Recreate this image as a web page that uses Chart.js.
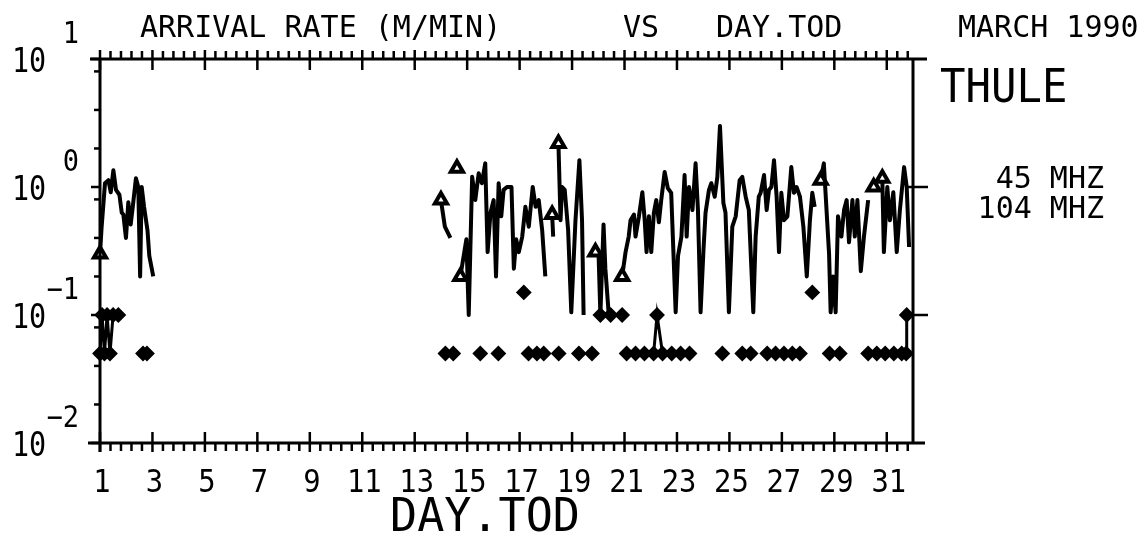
<!DOCTYPE html>
<html>
<head>
<meta charset="utf-8">
<script src="https://cdn.jsdelivr.net/npm/chart.js@4.4.1/dist/chart.umd.min.js"></script>
<style>
  html, body { margin: 0; padding: 0; background: #fff; }
  #wrap { position: relative; width: 1147px; height: 540px; }
  canvas { display: block; }
</style>
</head>
<body>
<div id="wrap"><canvas id="rateChart" width="1147" height="540"></canvas></div>
<script>
// 45 MHz arrival rate (m/min), day.tod -- null breaks the trace
const days45 = [
  1.00, 1.06, 1.19, 1.32, 1.41, 1.51, 1.61, 1.74, 1.83, 1.89, 1.99, 2.08, 2.17, 2.25, 2.37, 2.46, 2.53, 2.59, 2.68, 2.81, 2.88, 3.03, 3.10,
  14.00, 14.15, 14.36, 14.45,
  14.61, 14.68,
  14.74, 14.97, 15.06, 15.19, 15.31, 15.44, 15.56, 15.69, 15.78, 15.89, 16.01, 16.10, 16.20, 16.30, 16.39, 16.52, 16.69, 16.78, 16.87, 16.97,
  17.10, 17.22, 17.35, 17.50, 17.61, 17.73, 17.86, 17.98, 18.10,
  18.24, 18.28, 18.35,
  18.48, 18.56, 18.62, 18.72, 18.85, 18.97, 19.13, 19.28, 19.38, 19.44, 19.60,
  19.89, 20.01, 20.08, 20.20, 20.27, 20.40, 20.60,
  20.91, 21.04, 21.16, 21.23, 21.36, 21.42, 21.55, 21.68, 21.77, 21.84, 21.93, 22.02, 22.12, 22.21, 22.31, 22.40, 22.53, 22.65, 22.78, 22.95,
  23.04, 23.17, 23.29, 23.37, 23.46, 23.59, 23.71, 23.80, 23.90, 24.01, 24.09, 24.22, 24.31, 24.44, 24.54, 24.64, 24.77, 24.85, 24.98,
  25.11, 25.24, 25.39, 25.49, 25.62, 25.74, 25.91, 26.00, 26.12, 26.19, 26.32, 26.42, 26.51, 26.60, 26.70, 26.80, 26.89, 26.98,
  27.08, 27.21, 27.36, 27.46, 27.56, 27.69, 27.82, 27.95, 28.07, 28.16, 28.25, 28.35,
  28.48, 28.60, 28.80, 28.86, 28.95, 29.05, 29.14, 29.27, 29.37, 29.47, 29.56, 29.69, 29.78, 29.88, 30.01, 30.13, 30.29, 30.40,
  30.50, 30.60,
  30.83, 30.89, 31.02, 31.12, 31.25, 31.38, 31.50, 31.66, 31.76, 31.85
];
const rate45 = [
  0.30, 0.48, 1.07, 1.13, 0.91, 1.35, 0.95, 0.87, 0.63, 0.61, 0.40, 0.76, 0.51, 0.70, 1.17, 1.00, 0.20, 1.00, 0.70, 0.46, 0.29, 0.20, null,
  0.79, 0.49, 0.40, null,
  1.40, null,
  0.20, 0.39, 0.10, 1.20, 0.79, 1.28, 1.07, 1.53, 0.31, 0.63, 0.79, 0.20, 1.07, 0.59, 0.95, 1.00, 1.00, 0.23, 0.39, 0.31,
  0.41, 0.70, 0.49, 1.00, 0.70, 0.79, 0.46, 0.20, null,
  0.61, 0.41, null,
  2.19, 0.55, 1.00, 0.95, 0.46, 0.105, 0.55, 1.62, 0.55, 0.10, null,
  0.31, 0.30, 0.10, 0.51, 0.23, 0.10, null,
  0.20, 0.31, 0.41, 0.55, 0.61, 0.41, 0.59, 0.91, 0.55, 0.31, 0.59, 0.31, 0.63, 0.79, 0.53, 0.79, 1.31, 0.98, 0.90, 0.105,
  0.29, 0.41, 1.24, 0.41, 1.00, 0.66, 1.53, 0.66, 0.105, 0.32, 0.63, 0.95, 1.07, 0.84, 1.20, 3.00, 0.75, 0.63, 0.105,
  0.49, 0.59, 1.13, 1.20, 0.84, 0.66, 0.105, 0.41, 0.84, 0.90, 1.24, 0.66, 0.95, 1.00, 1.62, 0.84, 0.31, 0.90,
  0.55, 0.59, 1.43, 0.90, 1.00, 0.84, 0.49, 0.20, 0.55, 0.90, 0.70, null,
  1.13, 1.53, 0.30, 0.105, 0.20, 0.105, 0.59, 0.41, 0.66, 0.79, 0.37, 0.79, 0.41, 0.79, 0.22, 0.41, 0.79, null,
  1.00, null,
  1.17, 0.31, 1.00, 0.55, 0.91, 0.31, 0.66, 1.43, 1.00, 0.34
];

// 104 MHz arrival rate
const days104 = [
  1.00, 1.08, 1.17, 1.27, 1.38, 1.50, 1.70, 2.00, 2.64, 2.79, 3.00,
  14.17, 14.47, 15.00, 15.50, 15.80, 16.19, 16.50, 17.16, 17.25, 17.34, 17.66, 17.92, 18.20,
  18.49, 18.90, 19.26, 19.50, 19.76, 19.90, 20.08, 20.47, 20.91, 21.00,
  21.08, 21.42, 21.76, 22.11, 22.24, 22.45, 22.80, 23.14, 23.48, 24.00,
  24.73, 25.20, 25.49, 25.81, 26.10, 26.44, 26.76, 27.08, 27.40, 27.69, 28.00,
  28.16, 28.50, 28.82, 29.21, 29.80, 30.29, 30.62, 30.94, 31.27, 31.57, 31.74, 31.76
];
const rate104 = [
  0.05, 0.10, 0.05, 0.10, 0.05, 0.10, 0.10, null, 0.05, 0.05, null,
  0.05, 0.05, null, 0.05, null, 0.05, null, 0.15, null, 0.05, 0.05, 0.05, null,
  0.05, null, 0.05, null, 0.05, null, 0.10, 0.10, 0.10, null,
  0.05, 0.05, 0.05, 0.05, 0.10, 0.05, 0.05, 0.05, 0.05, null,
  0.05, null, 0.05, 0.05, null, 0.05, 0.05, 0.05, 0.05, 0.05, null,
  0.15, null, 0.05, 0.05, null, 0.05, 0.05, 0.05, 0.05, 0.05, 0.05, 0.10
];

const xTickDays = [1, 3, 5, 7, 9, 11, 13, 15, 17, 19, 21, 23, 25, 27, 29, 31];
const yDecades = [0.01, 0.1, 1, 10];
const yExponents = ['\u22122', '\u22121', '0', '1'];
const yMinorSteps = [2, 4, 8];
const rightAxisMarks = [1, 0.1];

const titleParts = [
  { text: 'ARRIVAL RATE (M/MIN)', x: 140 },
  { text: 'VS', x: 623 },
  { text: 'DAY.TOD', x: 716 },
  { text: 'MARCH 1990', x: 958 }
];
const stationName = 'THULE';
const seriesNames = ['45 MHZ', '104 MHZ'];
const xTitle = 'DAY.TOD';

const MONO = '"DejaVu Sans Mono", monospace';

function toPoints(days, vals) {
  return days.map((d, i) => ({ x: d, y: vals[i] }));
}

// draw text squeezed horizontally by sx
function drawText(ctx, s, x, y, size, sx, align) {
  ctx.save();
  ctx.font = size + 'px ' + MONO;
  ctx.textBaseline = 'alphabetic';
  ctx.textAlign = 'left';
  const w = ctx.measureText(s).width * sx;
  let x0 = x;
  if (align === 'right') x0 = x - w;
  if (align === 'center') x0 = x - w / 2;
  ctx.translate(x0, y);
  ctx.scale(sx, 1);
  ctx.fillText(s, 0, 0);
  ctx.restore();
}

function seg(ctx, x1, y1, x2, y2) {
  ctx.beginPath();
  ctx.moveTo(x1, y1);
  ctx.lineTo(x2, y2);
  ctx.stroke();
}

// old calcomp style frame, ticks and labels
const framePlugin = {
  id: 'framePlugin',
  afterDraw(chart) {
    const { ctx, chartArea: a } = chart;
    const xs = chart.scales.x, ys = chart.scales.y;
    ctx.save();
    ctx.strokeStyle = '#000';
    ctx.fillStyle = '#000';
    ctx.lineCap = 'butt';

    // box
    ctx.lineWidth = 3;
    seg(ctx, a.left - 10, a.top, a.right + 14, a.top);
    seg(ctx, a.left - 12, a.bottom, a.right + 12, a.bottom);
    seg(ctx, a.left, a.top, a.left, a.bottom + 9);
    seg(ctx, a.right, a.top - 1, a.right, a.bottom);

    // x ticks, 5 subdivisions per 2 days
    ctx.lineWidth = 2.5;
    const first = xTickDays[0];
    for (let k = 0; first + k * 0.4 <= xs.max + 1e-6; k++) {
      const px = xs.getPixelForValue(first + k * 0.4);
      if (k % 5 === 0) {
        seg(ctx, px, a.bottom - 11, px, a.bottom + 9);
        seg(ctx, px, a.top - 9, px, a.top + 11);
      } else {
        seg(ctx, px, a.bottom, px, a.bottom + 8);
        seg(ctx, px, a.top - 8, px, a.top);
      }
    }

    // y ticks
    yDecades.forEach((v, i) => {
      const py = ys.getPixelForValue(v);
      seg(ctx, a.left - 9, py, a.left + 1, py);
      if (i < yDecades.length - 1) {
        yMinorSteps.forEach(m => {
          const pm = ys.getPixelForValue(v * m);
          seg(ctx, a.left - 6, pm, a.left, pm);
        });
      }
    });
    rightAxisMarks.forEach(v => {
      const py = ys.getPixelForValue(v);
      seg(ctx, a.right - 8, py, a.right + 15, py);
    });

    // y labels 10^n
    yDecades.forEach((v, i) => {
      const py = ys.getPixelForValue(v);
      drawText(ctx, '10', 12, py + 13, 33, 0.86, 'left');
      drawText(ctx, yExponents[i], 79, py - 16, 30, 0.9, 'right');
    });

    // x labels
    xTickDays.forEach(d => {
      const px = xs.getPixelForValue(d);
      drawText(ctx, String(d), px + 2, a.bottom + 49, 32, 0.9, 'center');
    });
    drawText(ctx, xTitle, 485, a.bottom + 88, 46, 0.98, 'center');

    // header
    titleParts.forEach(t => drawText(ctx, t.text, t.x, 37, 30, 1, 'left'));
    drawText(ctx, stationName, 940, 102, 46, 0.92, 'left');
    drawText(ctx, seriesNames[0], 1104, 188, 30, 1, 'right');
    drawText(ctx, seriesNames[1], 1104, 218, 30, 1, 'right');

    ctx.restore();
  }
};

const chart = new Chart(document.getElementById('rateChart').getContext('2d'), {
  type: 'line',
  data: {
    datasets: [{
      label: seriesNames[0],
      data: toPoints(days45, rate45),
      borderColor: '#000',
      borderWidth: 4,
      borderJoinStyle: 'round',
      tension: 0,
      clip: false,
      pointStyle: 'triangle',
      pointBackgroundColor: '#fff',
      pointBorderColor: '#000',
      pointBorderWidth: 4,
      // triangle only where a trace starts
      pointRadius: function(ctx) {
        const d = ctx.dataset.data;
        const i = ctx.dataIndex;
        if (d[i].y === null) return 0;
        return (i === 0 || d[i - 1].y === null) ? 7 : 0;
      }
    }, {
      label: seriesNames[1],
      data: toPoints(days104, rate104),
      borderColor: '#000',
      borderWidth: 3,
      tension: 0,
      clip: false,
      pointStyle: 'rectRot',
      pointRadius: 6.5,
      pointBackgroundColor: '#000',
      pointBorderColor: '#000',
      pointBorderWidth: 2
    }]
  },
  options: {
    responsive: false,
    animation: false,
    devicePixelRatio: 1,
    layout: { padding: { left: 100, right: 234, top: 59, bottom: 97 } },
    scales: {
      x: { type: 'linear', min: 1, max: 32, display: false },
      y: { type: 'logarithmic', min: 0.01, max: 10, display: false }
    },
    plugins: {
      legend: { display: false },
      tooltip: { enabled: false }
    }
  },
  plugins: [framePlugin]
});
</script>
</body>
</html>
